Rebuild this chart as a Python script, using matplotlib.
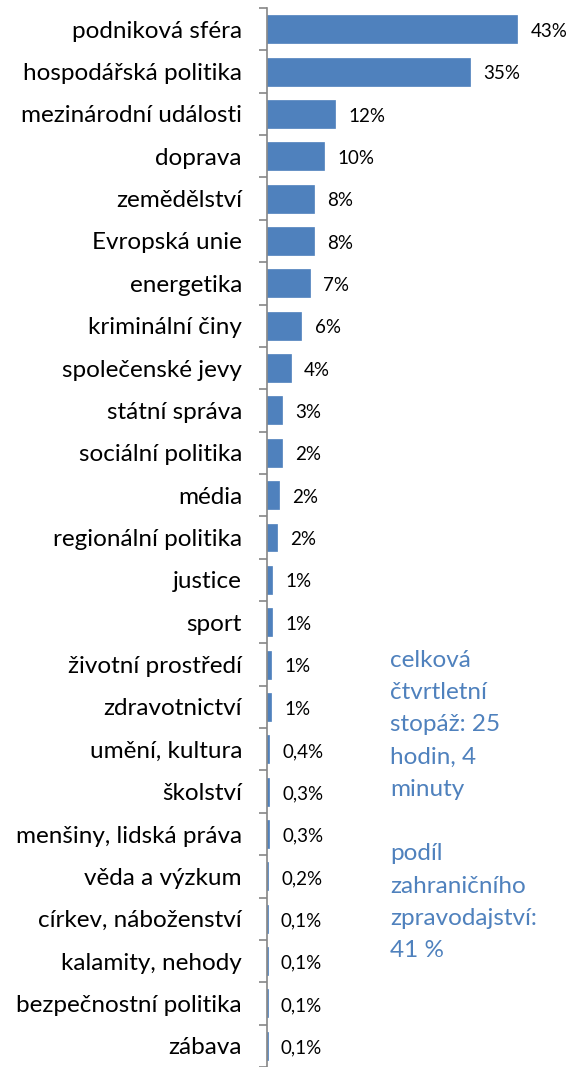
import numpy as np
import matplotlib.pyplot as plt

plt.rcParams['font.family'] = ['Lato', 'DejaVu Sans']

# kategorie a podily (v %)
kategorie = ['podniková sféra', 'hospodářská politika', 'mezinárodní události',
             'doprava', 'zemědělství', 'Evropská unie', 'energetika',
             'kriminální činy', 'společenské jevy', 'státní správa',
             'sociální politika', 'média', 'regionální politika', 'justice',
             'sport', 'životní prostředí', 'zdravotnictví', 'umění, kultura',
             'školství', 'menšiny, lidská práva', 'věda a výzkum',
             'církev, náboženství', 'kalamity, nehody', 'bezpečnostní politika',
             'zábava']
podil = [43.0, 34.8, 11.7, 9.8, 8.0, 8.0, 7.4, 5.9, 4.1, 2.6, 2.5, 2.1, 1.7,
         0.8, 0.8, 0.7, 0.7, 0.4, 0.3, 0.3, 0.2, 0.1, 0.1, 0.1, 0.1]
popisky = ['43%', '35%', '12%', '10%', '8%', '8%', '7%', '6%', '4%', '3%',
           '2%', '2%', '2%', '1%', '1%', '1%', '1%', '0,4%', '0,3%', '0,3%',
           '0,2%', '0,1%', '0,1%', '0,1%', '0,1%']
poznamka = ('celková\nčtvrtletní\nstopáž: 25\nhodin, 4\nminuty\n\n'
            'podíl\nzahraničního\nzpravodajství:\n41 %')

W, H = 571, 1067
fig = plt.figure(figsize=(W / 100, H / 100), dpi=100)
ax = fig.add_axes([267 / W, 0, (558 - 267) / W, (H - 8) / H])

y = np.arange(len(kategorie))
ax.barh(y, podil, height=0.66, color='#4F81BD', edgecolor='#4F81BD', linewidth=0.5)
ax.set_ylim(24.42, -0.5)
ax.set_xlim(0, 50)

for yi, v, t in zip(y, podil, popisky):
    ax.text(v + 2.3, yi + 0.05, t, va='center', ha='left', fontsize=13.5, color='black')

ax.set_yticks(y)
ax.set_yticklabels(kategorie, fontsize=17.5)
ax.set_yticks(np.arange(-0.5, len(kategorie)), minor=True)
ax.tick_params(axis='y', which='major', length=0, pad=18)
ax.tick_params(axis='y', which='minor', length=6, width=1.2, color='#868686')
ax.set_xticks([])
for s in ['top', 'right', 'bottom']:
    ax.spines[s].set_visible(False)
ax.spines['left'].set_color('#868686')
ax.spines['left'].set_linewidth(1.2)

fig.text(390 / W, 1 - 650 / H, poznamka, ha='left', va='top', fontsize=17.5,
         color='#4F81BD', linespacing=1.66)

fig.savefig('out.png', dpi=100)
